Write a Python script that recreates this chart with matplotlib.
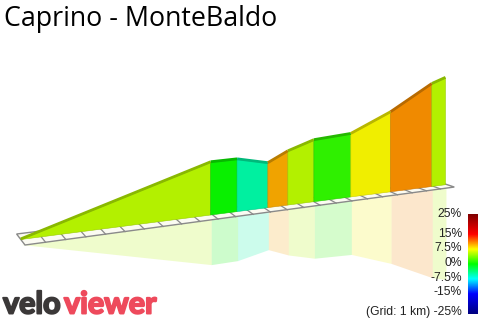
import numpy as np
import matplotlib
matplotlib.use('Agg')
import matplotlib.pyplot as plt
import matplotlib.patheffects as pe
from matplotlib.colors import LinearSegmentedColormap
from matplotlib.patches import Polygon

# ----------------------------------------------------------------
# data
# ----------------------------------------------------------------
title = 'Caprino - MonteBaldo'
dist_km = [0.0, 9.9, 11.4, 13.2, 14.4, 16.0, 18.35, 21.0, 23.9, 24.9]
elev_m = [250, 790, 785, 705, 800, 880, 895, 1065, 1300, 1345]
grade_pct = [5.6, 0.3, -5.0, 9.8, 5.5, 1.5, 7.5, 10.6, 5.5]
grid_km = 25
bar_ticks = [25, 15, 7.5, 0, -7.5, -15, -25]
bar_labels = ['25%', '15%', '7.5%', '0%', '-7.5%', '-15%', '(Grid: 1 km) -25%']

# gradient colour scale (same as the legend bar)
cmap = LinearSegmentedColormap.from_list('grade', [
    (0.0, '#000080'), (0.2, '#0000ff'), (0.35, '#00ffff'), (0.5, '#00ff00'),
    (0.65, '#ffff00'), (0.8, '#ff0000'), (1.0, '#800000')])


def grade_colour(g, k=1.0):
    c = np.array(cmap((g + 25) / 50.0)[:3])
    return tuple(c * k)


# ----------------------------------------------------------------
# fake 3d projection (pixel space, y down)
# ----------------------------------------------------------------
def base_point(d):
    x = 20.8 + 20.59 * d - 0.142 * d * d
    y = 239.5 - 0.129 * (x - 20.8)
    return x, y


def half_depth(d):
    f = d / grid_km
    return 4.2 + 3.3 * f, 5.5 - 3.0 * f


def height_px(e):
    return (e - elev_m[0]) * 0.0975


fig = plt.figure(figsize=(4.8, 3.21), dpi=100)
ax = fig.add_axes([0, 0, 1, 1])
ax.set_xlim(0, 480)
ax.set_ylim(321, 0)
ax.axis('off')

# reflection under the grid strip
for i in range(len(grade_pct)):
    pts = []
    for d, e in [(dist_km[i], elev_m[i]), (dist_km[i + 1], elev_m[i + 1])]:
        x, y = base_point(d)
        hx, hy = half_depth(d)
        pts.append((x + 1, y + hy))
    for d, e in [(dist_km[i + 1], elev_m[i + 1]), (dist_km[i], elev_m[i])]:
        x, y = base_point(d)
        hx, hy = half_depth(d)
        pts.append((x + 1, y + hy + 0.87 * height_px(e)))
    ax.add_patch(Polygon(pts, closed=True, facecolor=grade_colour(grade_pct[i], 0.94),
                         alpha=0.2, edgecolor='none', zorder=1))

# grid strip
corners = []
for d, s in [(0, -1), (grid_km, -1), (grid_km, 1), (0, 1)]:
    x, y = base_point(d)
    hx, hy = half_depth(d)
    corners.append((x + s * hx, y + s * hy))
ax.add_patch(Polygon(corners, closed=True, facecolor='#fbfbf2', edgecolor='#8a8a8a',
                     lw=1.0, zorder=2))
for k in range(1, grid_km):
    x, y = base_point(k)
    hx, hy = half_depth(k)
    ax.plot([x - hx, x + hx], [y - hy, y + hy], color='#8a8a8a', lw=0.9, zorder=2)

# walls
for i in range(len(grade_pct)):
    x0, y0 = base_point(dist_km[i])
    x1, y1 = base_point(dist_km[i + 1])
    t0 = y0 - height_px(elev_m[i])
    t1 = y1 - height_px(elev_m[i + 1])
    face = grade_colour(grade_pct[i], 0.94)
    ax.add_patch(Polygon([(x0, y0), (x1, y1), (x1, t1), (x0, t0)], closed=True,
                         facecolor=face, edgecolor=grade_colour(grade_pct[i], 0.8),
                         lw=0.4, zorder=3))
    ax.plot([x0, x1], [t0 - 0.6, t1 - 0.6], color=grade_colour(grade_pct[i], 0.72),
            lw=2.0, solid_capstyle='butt', zorder=4)

# colour legend
grad = np.linspace(25, -25, 200).reshape(-1, 1)
ax.imshow(grad, cmap=cmap, vmin=-25, vmax=25, extent=[468, 478, 314, 214],
          aspect='auto', origin='upper', zorder=5)
for v, lab in zip(bar_ticks, bar_labels):
    ax.text(462, 214 + (25 - v) * 1.96, lab, ha='right', va='center', fontsize=8.7,
            family='Liberation Sans', color='#222222')

ax.text(4, 26, title, ha='left', va='baseline', fontsize=19.3,
        family='Open Sans', color='black')

t1 = ax.text(3, 313.5, 'velo', ha='left', va='baseline', fontsize=22, weight='bold',
             family='Lato', color='#3b3838')
t1.set_path_effects([pe.withStroke(linewidth=1.4, foreground='#3b3838')])
t2 = ax.text(64, 313.5, 'viewer', ha='left', va='baseline', fontsize=22, weight='bold',
             family='Lato', color='#ee4a5c')
t2.set_path_effects([pe.withStroke(linewidth=1.4, foreground='#ee4a5c')])

fig.savefig('out.png', dpi=100)
